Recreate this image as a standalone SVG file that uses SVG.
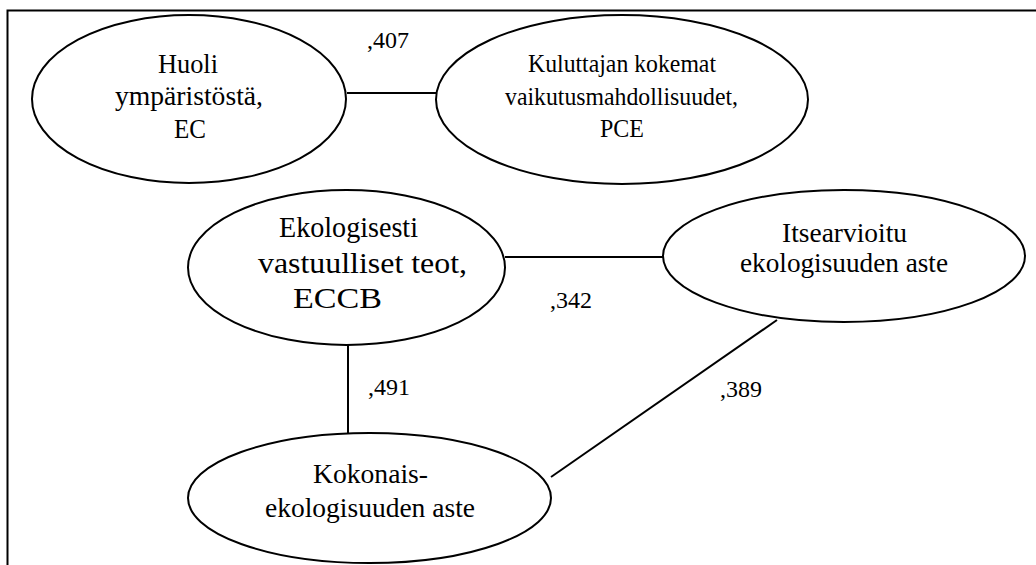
<svg xmlns="http://www.w3.org/2000/svg" width="1036" height="565" viewBox="0 0 1036 565">
  <style>
    .node ellipse { fill: #ffffff; stroke: #000000; stroke-width: 2; }
    text { font-family: "Liberation Serif", "Times New Roman", "DejaVu Serif", serif; fill: #000000; }
    .node text { font-size: 27px; }
    .label { font-size: 24px; }
    .edges line { stroke: #000000; stroke-width: 2; }
    .frame { stroke: #000000; stroke-width: 2; fill: none; }
  </style>
  <rect width="1036" height="565" fill="#ffffff"/>
  <!-- open frame: top and left edges only -->
  <path class="frame" d="M7.5 565 V10.5 H1036"/>

  <g class="edges">
    <line x1="347" y1="93" x2="437" y2="93"/>
    <line x1="505" y1="257" x2="663" y2="257"/>
    <line x1="348" y1="345" x2="348" y2="437"/>
    <line x1="777" y1="320" x2="551" y2="477"/>
  </g>

  <g id="ec" class="node">
    <ellipse cx="189" cy="99" rx="157" ry="84"/>
    <text x="158" y="73" textLength="60" lengthAdjust="spacingAndGlyphs">Huoli</text>
    <text x="115" y="105" textLength="148" lengthAdjust="spacingAndGlyphs">ympäristöstä,</text>
    <text x="174" y="138" textLength="32" lengthAdjust="spacingAndGlyphs">EC</text>
  </g>
  <g id="pce" class="node">
    <ellipse cx="622" cy="99.5" rx="186" ry="84.5"/>
    <text x="528" y="72" style="font-size:25.5px" textLength="188" lengthAdjust="spacingAndGlyphs">Kuluttajan kokemat</text>
    <text x="505" y="105" style="font-size:25.5px" textLength="233" lengthAdjust="spacingAndGlyphs">vaikutusmahdollisuudet,</text>
    <text x="600" y="137" style="font-size:25.5px" textLength="44" lengthAdjust="spacingAndGlyphs">PCE</text>
  </g>
  <g id="eccb" class="node">
    <ellipse cx="346.5" cy="267.5" rx="158.5" ry="77.5"/>
    <text x="279" y="237" style="font-size:29px" textLength="139" lengthAdjust="spacingAndGlyphs">Ekologisesti</text>
    <text x="258" y="273" style="font-size:29px" textLength="209" lengthAdjust="spacingAndGlyphs">vastuulliset teot,</text>
    <text x="293" y="308" style="font-size:29px" textLength="89" lengthAdjust="spacingAndGlyphs">ECCB</text>
  </g>
  <g id="itsearvioitu" class="node">
    <ellipse cx="844" cy="256" rx="181" ry="66"/>
    <text x="782" y="242" textLength="125" lengthAdjust="spacingAndGlyphs">Itsearvioitu</text>
    <text x="740" y="272" textLength="208" lengthAdjust="spacingAndGlyphs">ekologisuuden aste</text>
  </g>
  <g id="kokonais" class="node">
    <ellipse cx="369.5" cy="498" rx="181.5" ry="65"/>
    <text x="313" y="483" textLength="115" lengthAdjust="spacingAndGlyphs">Kokonais-</text>
    <text x="265" y="517" textLength="210" lengthAdjust="spacingAndGlyphs">ekologisuuden aste</text>
  </g>

  <g id="labels">
    <text class="label" x="367" y="48">,407</text>
    <text class="label" x="550" y="308">,342</text>
    <text class="label" x="368" y="395">,491</text>
    <text class="label" x="720" y="397">,389</text>
  </g>
</svg>
